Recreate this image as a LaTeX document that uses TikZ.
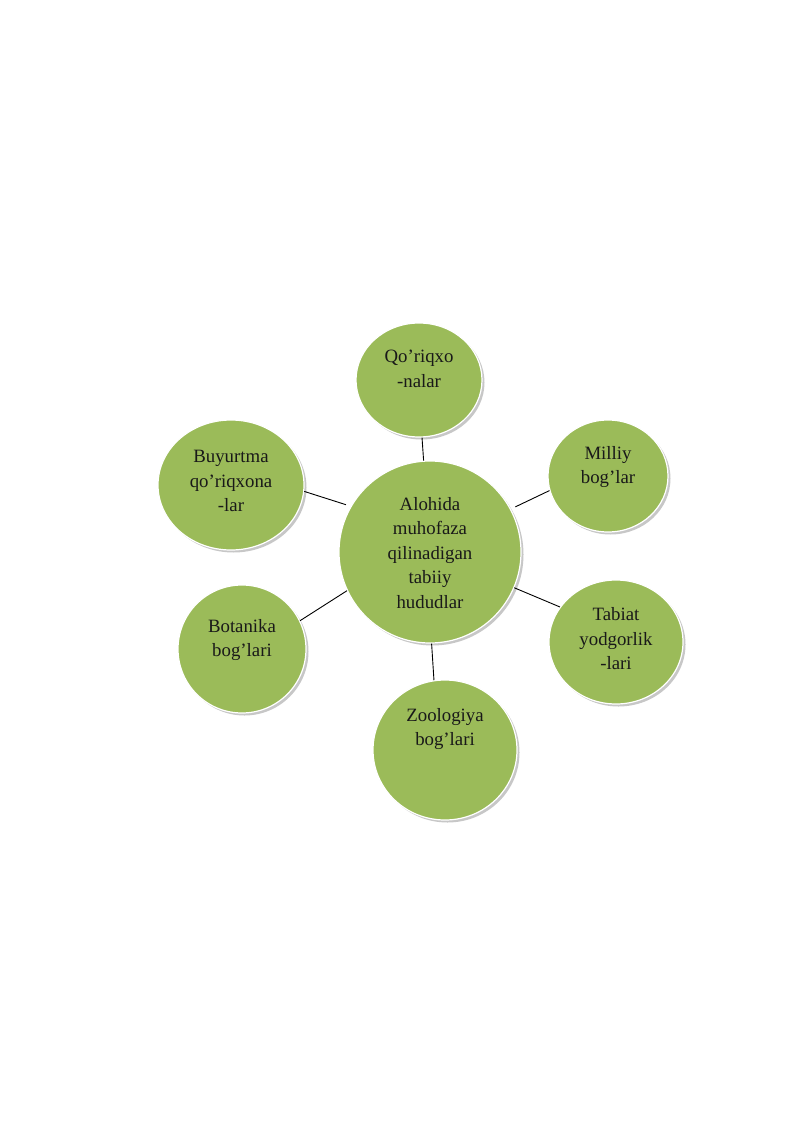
\documentclass[tikz,border=0pt]{standalone}
\usepackage{fontspec}
\setmainfont{Liberation Serif}
\usetikzlibrary{shapes.geometric,shadows}
\definecolor{leaf}{HTML}{9BBB59}
\begin{document}
\begin{tikzpicture}[x=1pt,y=-1pt,
 bubble/.style={ellipse, fill=leaf, draw=white, line width=1.2pt, inner sep=0pt,
   drop shadow={shadow xshift=2.5pt, shadow yshift=-2.5pt, fill=black!22, opacity=1}},
 txt/.style={align=center, font=\fontsize{18.8}{24.5}\selectfont, inner sep=0pt, text=black!90},
 link/.style={draw=black, line width=0.9pt}]
\useasboundingbox[fill=white] (0,0) rectangle (800,1131);
% circles
\node[bubble, minimum width=182pt, minimum height=182pt] (c) at (430,552) {};
\node[bubble, minimum width=126pt, minimum height=114pt] (q) at (419,380) {};
\node[bubble, minimum width=146pt, minimum height=130pt] (b) at (231,485) {};
\node[bubble, minimum width=120pt, minimum height=112pt] (m) at (608,476) {};
\node[bubble, minimum width=134pt, minimum height=124pt] (t) at (616,642) {};
\node[bubble, minimum width=128pt, minimum height=128pt] (bo) at (242,649) {};
\node[bubble, minimum width=144pt, minimum height=140pt] (z) at (445,750) {};
% texts
\node[txt] (ct) at (430,553) {Alohida\\muhofaza\\qilinadigan\\tabiiy\\hududlar};
\node[txt] (qt) at (419,369) {Qo’riqxo\\-nalar};
\node[txt] (bt) at (231,481) {Buyurtma\\qo’riqxona\\-lar};
\node[txt] (mt) at (608,467) {Milliy\\bog’lar};
\node[txt] (tt) at (616,639) {Tabiat\\yodgorlik\\-lari};
\node[txt] (bot) at (242,640) {Botanika\\bog’lari};
\node[txt] (zt) at (445,729) {Zoologiya\\bog’lari};
% connectors
\draw[link] (c.94) -- (q.-87);
\draw[link, shorten <=5pt] (c.150) -- (b.-5);
\draw[link, shorten <=5pt] (c.28) -- (m.194);
\draw[link] (c.-23) -- (t.148);
\draw[link] (c.205) -- (bo.26);
\draw[link] (c.-89) -- (z.99);
\end{tikzpicture}
\end{document}
